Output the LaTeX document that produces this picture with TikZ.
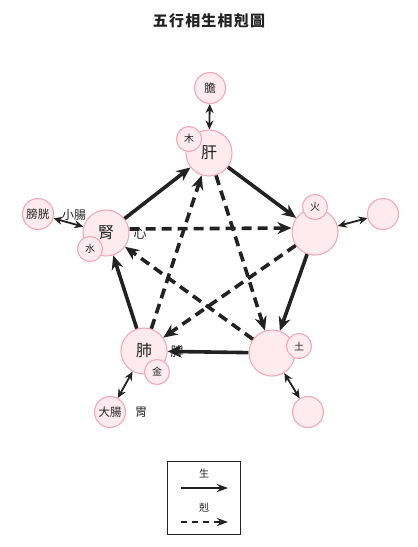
\documentclass[tikz,border=0pt]{standalone}
\usepackage{fontspec}
\newfontfamily\cjk{Noto Sans CJK TC}
\usetikzlibrary{arrows.meta}
\definecolor{organfill}{RGB}{253,235,239}
\definecolor{organline}{RGB}{244,168,184}
\definecolor{ink}{RGB}{34,34,34}
\newcommand{\fsz}[1]{\fontsize{#1}{#1}\selectfont}

\begin{document}
\begin{tikzpicture}[x=1pt, y=-1pt, every node/.style={font=\cjk, text=ink},
    zang/.style={circle, draw=organline, fill=organfill, line width=1.1pt, minimum size=46pt, inner sep=0pt, font=\cjk\fsz{16}},
    elem/.style={zang, minimum size=25pt, font=\cjk\fsz{10}},
    fu/.style={zang, minimum size=31pt, font=\cjk\fsz{11.5}},
    loose/.style={font=\cjk\fsz{12}},
    sheng/.style={draw=ink, line width=3.6pt, -{Stealth[length=14pt, width=12pt]}},
    ke/.style={sheng, dash pattern=on 10pt off 6pt},
    pair/.style={draw=ink, line width=1.8pt, {Stealth[length=9pt, width=8pt]}-{Stealth[length=9pt, width=8pt]}},
    legsheng/.style={draw=ink, line width=2pt, -{Stealth[length=11pt, width=8pt]}},
    legke/.style={legsheng, dash pattern=on 6pt off 5pt}]
  \useasboundingbox (0,0) rectangle (418,547);
  \node[font=\cjk\bfseries\fsz{15}] (title) at (209,21) {\addfontfeature{LetterSpace=8}五行相生相剋圖};

  % zang organs
  \node[zang] (gan) at (209,153) {肝};
  \node[zang] (huo) at (315,232) {};
  \node[zang] (tu) at (272,353) {};
  \node[zang] (fei) at (144,351) {肺};
  \node[zang] (shen) at (106,233) {腎};
  % elements
  \node[elem] (mu) at (189,139) {木};
  \node[elem] (huoel) at (315,207) {火};
  \node[elem] (tuel) at (299,346) {土};
  \node[elem] (jin) at (157,372) {金};
  \node[elem] (shui) at (90,249) {水};
  % fu organs
  \node[fu] (dan) at (210,88) {膽};
  \node[fu] (huofu) at (383,214) {};
  \node[fu] (tufu) at (308,412) {};
  \node[fu] (dachang) at (110,412) {大腸};
  \node[fu] (pangguang) at (38,214) {膀胱};
  % loose labels
  \node[loose] (xiaochang) at (74,215) {小腸};
  \node[loose, font=\cjk\fsz{13}] (xin) at (140,234) {心};
  \node[loose, font=\cjk\fsz{13}] (pi) at (177,352) {脾};
  \node[loose] (wei) at (141,412) {胃};

  % sheng cycle
  \draw[sheng] (gan) -- (huo);
  \draw[sheng] (huo) -- (tu);
  \draw[sheng] (tu) -- (fei);
  \draw[sheng] (fei) -- (shen);
  \draw[sheng] (shen) -- (gan);
  % ke cycle
  \draw[ke] (gan) -- (tu);
  \draw[ke] (tu) -- (shen);
  \draw[ke] ([yshift=4pt]shen.east) -- ([yshift=4pt]huo.west);
  \draw[ke] (huo) -- (fei);
  \draw[ke] (fei) -- (gan);
  % zang-fu pairs
  \draw[pair] (dan) -- (gan);
  \draw[pair] (huo) -- (huofu);
  \draw[pair] (tu) -- (tufu);
  \draw[pair] (fei) -- (dachang);
  \draw[pair] (pangguang) -- (shen);

  % legend
  \node[draw=ink, line width=0.8pt, minimum width=73pt, minimum height=73pt] (legend) at (203.5,497.5) {};
  \node[font=\cjk\fsz{10}] (lsheng) at (204,474) {生};
  \node[font=\cjk\fsz{10}] (lke) at (204,508) {剋};
  \coordinate (ls1) at (181,488);
  \coordinate (ls2) at (228,488);
  \coordinate (lk1) at (181,522);
  \coordinate (lk2) at (228,522);
  \draw[legsheng] (ls1) -- (ls2);
  \draw[legke] (lk1) -- (lk2);
\end{tikzpicture}
\end{document}
